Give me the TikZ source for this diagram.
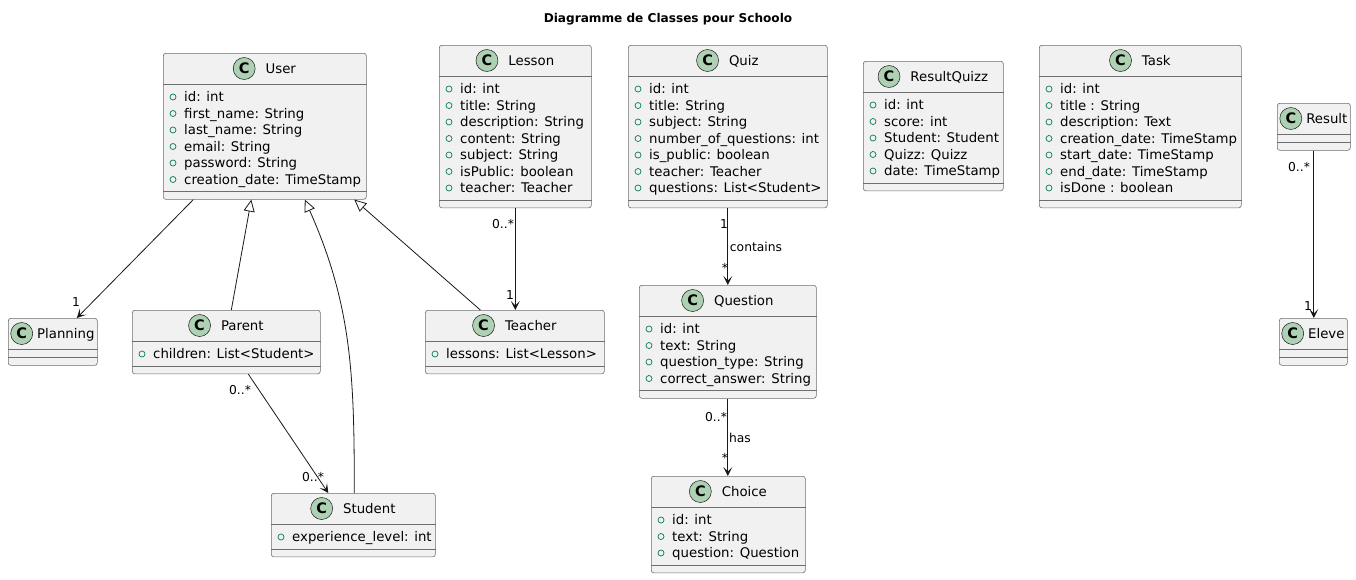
\documentclass[tikz,border=0pt]{standalone}
\usepackage{fontspec}
\setmainfont{DejaVu Sans}
\usetikzlibrary{arrows.meta,positioning}
\definecolor{boxfill}{HTML}{F1F1F1}
\definecolor{boxline}{HTML}{6E6E6E}
\definecolor{arrowline}{HTML}{181818}
\definecolor{badgefill}{HTML}{ADD1B2}
\definecolor{attrgreen}{HTML}{038048}

\tikzset{
  classbox/.style={draw=boxline, fill=boxfill, rounded corners=2.5pt, line width=0.6pt, inner sep=0pt, anchor=north west},
  sepline/.style={draw=boxline, line width=0.6pt},
  classname/.style={inner sep=0pt, text height=9.5pt, text depth=0pt, font=\fontsize{13.3}{15}\selectfont},
  cbadge/.style={circle, draw=arrowline, line width=0.5pt, fill=badgefill, minimum size=22pt, inner sep=0pt, font=\fontsize{14.5}{16}\selectfont\bfseries},
  attrtext/.style={inner sep=0pt, anchor=base west, font=\fontsize{13.3}{15}\selectfont},
  attrdot/.style={draw=attrgreen, line width=0.7pt},
  mult/.style={inner sep=0pt, font=\fontsize{12.3}{14}\selectfont},
  assoc/.style={draw=arrowline, line width=0.8pt, -{Stealth[length=9pt,width=9pt,inset=4.5pt]}},
  extends/.style={draw=arrowline, line width=0.8pt, -{Triangle[open,length=12pt,width=11pt]}},
}

% #1 gap after badge, #2 name, #3 left, #4 top, #5 width, #6 number of attributes, #7 title, #8 attributes
\newcommand{\umlclass}[8][10]{%
  \pgfmathsetmacro\boxh{47+16.5*#6}
  \node[classbox, minimum width=#5pt, minimum height=\boxh pt] (#2) at (#3,#4) {};
  \draw[sepline] ([yshift=-31pt]#2.north west) -- ([yshift=-31pt]#2.north east);
  \draw[sepline] ([yshift=8pt]#2.south west) -- ([yshift=8pt]#2.south east);
  \node[classname] (#2-name) at ([xshift={(22+#1)/2*1pt}, yshift=-15.5pt]#2.north) {#7};
  \node[cbadge, left=#1pt of #2-name] (#2-badge) {C};
  \ifnum#6>0
  \foreach \attrline [count=\i] in {#8} {
    \draw[attrdot] ([shift={(10pt,{-44pt-16.5pt*(\i-1)})}]#2.north west) circle (3pt);
    \node[attrtext] at ([shift={(21pt,{-48.5pt-16.5pt*(\i-1)})}]#2.north west) {\attrline};
  }
  \fi
}

\begin{document}
\begin{tikzpicture}[x=1pt,y=-1pt,line join=round]
  \useasboundingbox (0,0) rectangle (1356,579);
  \node[font=\fontsize{12.1}{14}\selectfont\bfseries] (title) at (668,19) {Diagramme de Classes pour Schoolo};

  % classes
  \umlclass{user}{163}{53}{203}{6}{User}{id: int, first\_name: String, last\_name: String, email: String, password: String, creation\_date: TimeStamp}
  \umlclass[4]{planning}{8}{318}{89}{0}{Planning}{}
  \umlclass{parent}{132}{310}{188}{1}{Parent}{children: List<Student>}
  \umlclass{student}{271}{493}{164}{1}{Student}{experience\_level: int}
  \umlclass{lesson}{439}{45}{152}{7}{Lesson}{id: int, title: String, description: String, content: String, subject: String, isPublic: boolean, teacher: Teacher}
  \umlclass{teacher}{425}{310}{179}{1}{Teacher}{lessons: List<Lesson>}
  \umlclass{quiz}{628}{45}{199}{7}{Quiz}{id: int, title: String, subject: String, number\_of\_questions: int, is\_public: boolean, teacher: Teacher, questions: List<Student>}
  \umlclass{question}{639}{285}{177}{4}{Question}{id: int, text: String, question\_type: String, correct\_answer: String}
  \umlclass{choice}{651}{476}{154}{3}{Choice}{id: int, text: String, question: Question}
  \umlclass{resultquizz}{863}{61}{140}{5}{ResultQuizz}{id: int, score: int, Student: Student, Quizz: Quizz, date: TimeStamp}
  \umlclass{task}{1039}{45}{202}{7}{Task}{id: int, title : String, description: Text, creation\_date: TimeStamp, start\_date: TimeStamp, end\_date: TimeStamp, isDone : boolean}
  \umlclass[4]{result}{1277}{103}{73}{0}{Result}{}
  \umlclass[4]{eleve}{1279}{318}{68}{0}{Eleve}{}

  % relations
  \draw[assoc] ([xshift=-71.5pt]user.south) -- ([xshift=24pt]planning.north);
  \draw[extends] ([xshift=5pt]parent.north) -- ([xshift=-13.5pt]user.south);
  \draw[extends] ([xshift=1pt]student.north) to[out=90,in=-66] ([xshift=40pt]user.south);
  \draw[extends] ([xshift=-34.5pt]teacher.north) -- ([xshift=89.5pt]user.south);
  \draw[assoc] (lesson.south) -- (lesson.south |- teacher.north);
  \draw[assoc] ([xshift=22pt]parent.south) -- ([xshift=-25pt]student.north);
  \draw[assoc] (quiz.south) -- (question.north);
  \draw[assoc] (question.south) -- (question.south |- choice.north);
  \draw[assoc] (result.south) -- (result.south |- eleve.north);

  % multiplicities and labels
  \node[mult] at (76,302) {1};
  \node[mult] at (503,224) {0..*};
  \node[mult] at (510,295) {1};
  \node[mult] at (240,390) {0..*};
  \node[mult] at (313,477) {0..*};
  \node[mult] at (724,224) {1};
  \node[mult] at (756,247) {contains};
  \node[mult] at (725,268) {*};
  \node[mult] at (716,417) {0..*};
  \node[mult] at (740,438) {has};
  \node[mult] at (725,458) {*};
  \node[mult] at (1299,167) {0..*};
  \node[mult] at (1308,306) {1};
\end{tikzpicture}
\end{document}
